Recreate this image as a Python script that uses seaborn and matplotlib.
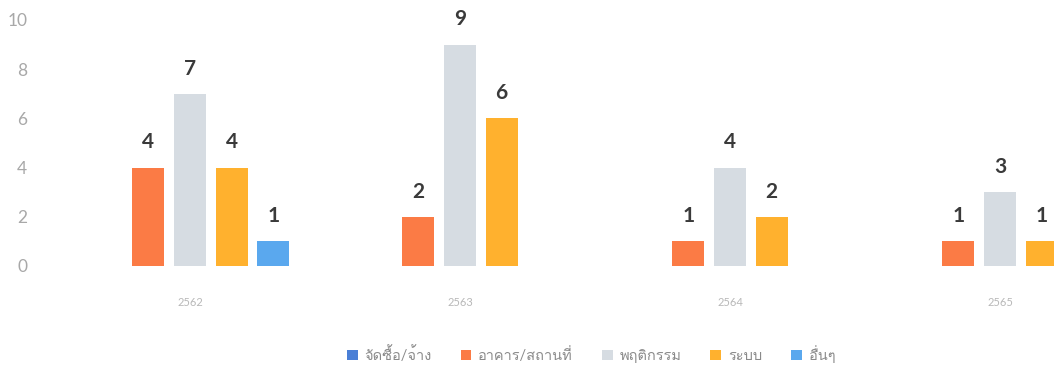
import matplotlib
matplotlib.use("Agg")
import matplotlib.pyplot as plt
from matplotlib import font_manager
from matplotlib.ft2font import FT2Font
import seaborn as sns
import pandas as pd

years = ["2562", "2563", "2564", "2565"]
series = ["จัดซื้อ/จ้าง", "อาคาร/สถานที่", "พฤติกรรม", "ระบบ", "อื่นๆ"]
procurement = [0, 0, 0, 0]
building = [4, 2, 1, 1]
behavior = [7, 9, 4, 3]
system = [4, 6, 2, 1]
other = [1, 0, 0, 0]
colors = ["#4a7fd6", "#fb7b45", "#d6dce2", "#ffb12e", "#5aa8ee"]

# find a font with Thai glyphs
thai_font = None
for f in font_manager.fontManager.ttflist:
    try:
        cmap = FT2Font(f.fname).get_charmap()
        if 0x0E08 in cmap and 0x0E35 in cmap:
            thai_font = f.name
            break
    except Exception:
        pass

sns.set_theme(style="white")
fams = ["Lato"] + ([thai_font] if thai_font else []) + ["DejaVu Sans"]
plt.rcParams["font.family"] = fams

rows = []
for s, vals in zip(series, [procurement, building, behavior, system, other]):
    for y, v in zip(years, vals):
        rows.append({"year": y, "type": s, "count": v})
df = pd.DataFrame(rows)

fig = plt.figure(figsize=(10.54, 3.69), dpi=100)
ax = fig.add_axes([55 / 1054, 1 - 266 / 369, 1 - 55 / 1054, (266 - 20) / 369])
sns.barplot(data=df, x="year", y="count", hue="type", hue_order=series,
            palette=colors, saturation=1, width=0.77, gap=0.23, linewidth=0,
            ax=ax, errorbar=None)

for c in ax.containers:
    labels = [("%d" % b.get_height()) if b.get_height() > 0 else "" for b in c]
    ax.bar_label(c, labels=labels, padding=11, fontsize=15, fontweight="bold",
                 color="#3a3a3a")

ax.set_ylim(0, 10)
ax.set_xlim(-0.5, 3.2)
ax.set_yticks([0, 2, 4, 6, 8, 10])
ax.tick_params(axis="y", length=0, pad=20, labelsize=12.5, labelcolor="#a8a8a8")
ax.tick_params(axis="x", length=0, pad=22, labelsize=8, labelcolor="#b8b8b8")
ax.set_xlabel("")
ax.set_ylabel("")
for sp in ax.spines.values():
    sp.set_visible(False)
ax.grid(False)

sns.move_legend(ax, loc="center", bbox_to_anchor=(591 / 1054, 1 - 354 / 369),
                bbox_transform=fig.transFigure, ncol=5, frameon=False, title=None,
                fontsize=10.5, handlelength=0.75, handleheight=0.75, handletextpad=0.45,
                columnspacing=2.0, labelcolor="#8a8a8a")

fig.savefig("out.png", dpi=100)
